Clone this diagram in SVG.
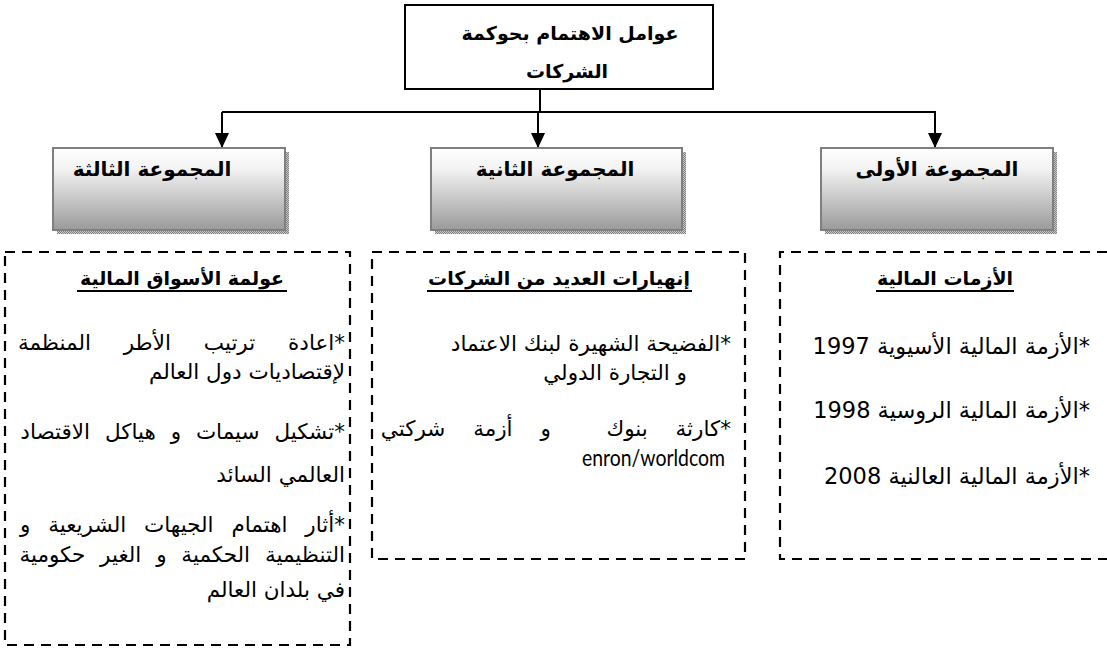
<svg xmlns="http://www.w3.org/2000/svg" width="1107" height="652" viewBox="0 0 1107 652">
<style>
.ar{font-family:"DejaVu Sans",sans-serif;direction:rtl;fill:#000}
.b{font-weight:bold}
.title{font-size:19px}
.grp{font-size:20px}
.head{font-size:19px}
.body{font-size:21.5px}
.num{font-size:22.5px}
.lat{font-family:"Lato","Open Sans",sans-serif;font-size:23px;fill:#000}
.gbox{fill:url(#grad);stroke:#7f7f7f;stroke-width:2}
.shadow{fill:url(#dots)}
.dash{fill:none;stroke:#000;stroke-width:2.2;stroke-dasharray:10 7}
.conn{fill:none;stroke:#000;stroke-width:2}
.ul{stroke:#000;stroke-width:2}
</style>
<defs>
<linearGradient id="grad" x1="0" y1="0" x2="0" y2="1">
<stop offset="0" stop-color="#ffffff"/>
<stop offset="0.25" stop-color="#f3f3f3"/>
<stop offset="1" stop-color="#9a9a9a"/>
</linearGradient>
<pattern id="dots" width="2" height="2" patternUnits="userSpaceOnUse">
<rect width="2" height="2" fill="#c8c8c8"/>
<rect width="1" height="1" fill="#808080"/>
<rect x="1" y="1" width="1" height="1" fill="#808080"/>
</pattern>
<marker id="arr" viewBox="0 0 15 14" refX="15" refY="7" markerWidth="15" markerHeight="14" markerUnits="userSpaceOnUse" orient="auto">
<path d="M0,0 L15,7 L0,14 z" fill="#000"/>
</marker>
</defs>
<rect width="1107" height="652" fill="#fff"/>

<g id="connectors">
<path class="conn" d="M540,89 V112"/>
<path class="conn" d="M222,112 H936"/>
<path class="conn" d="M222,112 V148" marker-end="url(#arr)"/>
<path class="conn" d="M538,112 V148" marker-end="url(#arr)"/>
<path class="conn" d="M935,112 V148" marker-end="url(#arr)"/>
</g>

<g id="root">
<rect x="405" y="5" width="308" height="84" fill="#fff" stroke="#000" stroke-width="2"/>
<text class="ar b title" x="570" y="40" text-anchor="middle">عوامل الاهتمام بحوكمة</text>
<text class="ar b title" x="567" y="78" text-anchor="middle">الشركات</text>
</g>

<g id="group3">
<rect class="shadow" x="57" y="152" width="232" height="82"/>
<rect class="gbox" x="53" y="148" width="232" height="82"/>
<text class="ar b grp" x="152" y="176" text-anchor="middle">المجموعة الثالثة</text>
</g>
<g id="group2">
<rect class="shadow" x="435" y="152" width="251" height="82"/>
<rect class="gbox" x="431" y="148" width="251" height="82"/>
<text class="ar b grp" x="555" y="176" text-anchor="middle">المجموعة الثانية</text>
</g>
<g id="group1">
<rect class="shadow" x="825" y="152" width="232" height="82"/>
<rect class="gbox" x="821" y="148" width="232" height="82"/>
<text class="ar b grp" x="937" y="176" text-anchor="middle">المجموعة الأولى</text>
</g>

<g id="box3">
<rect class="dash" x="5" y="252" width="345" height="393"/>
<text class="ar b head" x="182" y="285" text-anchor="middle">عولمة الأسواق المالية</text>
<line class="ul" x1="77" y1="291" x2="287" y2="291"/>
<text class="ar body" x="345" y="350" text-anchor="start" word-spacing="26">*اعادة ترتيب الأطر المنظمة</text>
<text class="ar body" x="345" y="379" text-anchor="start">لإقتصاديات دول العالم</text>
<text class="ar body" x="345" y="439" text-anchor="start" word-spacing="8">*تشكيل سيمات و هياكل الاقتصاد</text>
<text class="ar body" x="345" y="482" text-anchor="start">العالمي السائد</text>
<text class="ar body" x="345" y="532" text-anchor="start" word-spacing="11">*أثار اهتمام الجيهات الشريعية و</text>
<text class="ar body" x="345" y="562" text-anchor="start" word-spacing="8">التنظيمية الحكمية و الغير حكومية</text>
<text class="ar body" x="345" y="597" text-anchor="start">في بلدان العالم</text>
</g>

<g id="box2">
<rect class="dash" x="372" y="252" width="373" height="307"/>
<text class="ar b head" x="559" y="285" text-anchor="middle">إنهيارات العديد من الشركات</text>
<line class="ul" x1="427" y1="291" x2="692" y2="291"/>
<text class="ar body" x="731" y="351" text-anchor="start">*الفضيحة الشهيرة لبنك الاعتماد</text>
<text class="ar body" x="687" y="380" text-anchor="start">و التجارة الدولي</text>
<text class="ar body" x="731" y="436" text-anchor="start" word-spacing="21" style="white-space:pre">*كارثة بنوك  و أزمة شركتي</text>
<text class="lat" x="725" y="466" text-anchor="end" textLength="143" lengthAdjust="spacingAndGlyphs">enron/worldcom</text>
</g>

<g id="box1">
<path class="dash" d="M1107,252 H780 V559 H1107"/>
<text class="ar b head" x="945" y="285" text-anchor="middle">الأزمات المالية</text>
<line class="ul" x1="876" y1="291" x2="1014" y2="291"/>
<text class="ar num" x="1090" y="354" text-anchor="start">*الأزمة المالية الأسيوية 1997</text>
<text class="ar num" x="1090" y="418" text-anchor="start">*الأزمة المالية الروسية 1998</text>
<text class="ar num" x="1090" y="484" text-anchor="start">*الأزمة المالية العالنية 2008</text>
</g>
</svg>
